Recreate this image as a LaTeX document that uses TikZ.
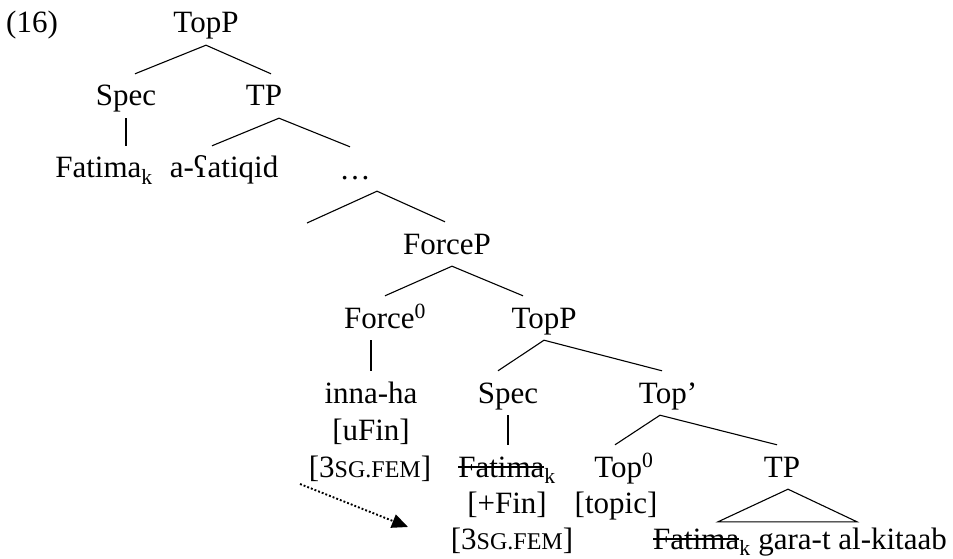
\documentclass[tikz,border=0pt]{standalone}
\usepackage{fontspec}
\setmainfont{Liberation Serif}
\usepackage{tikz}
\usetikzlibrary{arrows.meta}

\newcommand{\sgfem}{3{\fontsize{24}{28}\selectfont SG.FEM}}
\newcommand{\struck}[1]{\setbox0\hbox{#1}\rlap{\rule[0.28em]{\wd0}{0.06em}}\box0}

\tikzset{
	lab/.style={anchor=base, inner xsep=0pt, inner ysep=5pt, text height=27pt, text depth=7pt},
	branch/.style={line width=1.1pt},
}

\begin{document}
\begin{tikzpicture}[x=1pt, y=-1pt, font=\fontsize{31}{37}\selectfont]
	\useasboundingbox (0, 0) rectangle (953, 559);

	\node[lab, anchor=base west] (ex) at (6, 33) {(16)};
	\node[lab] (topa) at (206, 33) {TopP};
	\node[lab] (speca) at (126, 106) {Spec};
	\node[lab] (tpa) at (264, 106) {TP};
	\node[lab] (fatimaa) at (104, 178) {Fatima\textsubscript{k}};
	\node[lab] (atiqid) at (224, 178) {a-ʕatiqid};
	\node[lab] (dots) at (355, 179) {…};
	\node[lab] (forcep) at (447, 254) {ForceP};
	\node[lab] (forcez) at (385, 328) {Force\textsuperscript{0}};
	\node[lab] (topb) at (544, 328) {TopP};
	\node[lab] (inna) at (371, 403) {inna-ha};
	\node[lab] (specb) at (508, 403) {Spec};
	\node[lab] (topbar) at (668, 403) {Top’};
	\node[lab] (ufin) at (371, 440) {[uFin]};
	\node[lab] (fema) at (370, 477) {[\sgfem]};
	\node[lab] (fatimab) at (507, 477) {\struck{Fatima}\textsubscript{k}};
	\node[lab] (topz) at (624, 477) {Top\textsuperscript{0}};
	\node[lab] (tpb) at (782, 477) {TP};
	\node[lab] (fin) at (507, 513) {[+Fin]};
	\node[lab] (topic) at (616, 513) {[topic]};
	\node[lab] (femb) at (512, 549) {[\sgfem]};
	\node[lab] (clause) at (800, 549) {\struck{Fatima}\textsubscript{k} gara-t al-kitaab};

	\coordinate (gap) at (307, 223);
	\coordinate (arrstart) at (300, 484);
	\coordinate (arrend) at (408, 527);

	\draw[branch] ([xshift=9]speca.north) -- (topa.south) -- ([xshift=7]tpa.north);
	\draw[branch] (speca.south) -- (speca.south |- fatimaa.north);
	\draw[branch] ([xshift=-12]atiqid.north) -- ([xshift=15]tpa.south) -- ([xshift=-5]dots.north);
	\draw[branch] (gap) -- ([xshift=22]dots.south) -- ([xshift=-2]forcep.north);
	\draw[branch] (forcez.north) -- ([xshift=5]forcep.south) -- ([xshift=-21]topb.north);
	\draw[branch] (inna.north) -- (inna.north |- forcez.south);
	\draw[branch] ([xshift=-10]specb.north) -- (topb.south) -- ([xshift=-6]topbar.north);
	\draw[branch] (specb.south) -- (specb.south |- fatimab.north);
	\draw[branch] ([xshift=-9]topz.north) -- ([xshift=-8]topbar.south) -- ([xshift=-5]tpb.north);
	\draw[branch] ([xshift=6]tpb.south) -- ([shift={(-82, 5)}]clause.north) -- ([shift={(57, 5)}]clause.north) -- cycle;

	\draw[dotted, line width=1.9pt, -{Triangle[length=16pt, width=14pt]}] (arrstart) -- (arrend);

\end{tikzpicture}
\end{document}
